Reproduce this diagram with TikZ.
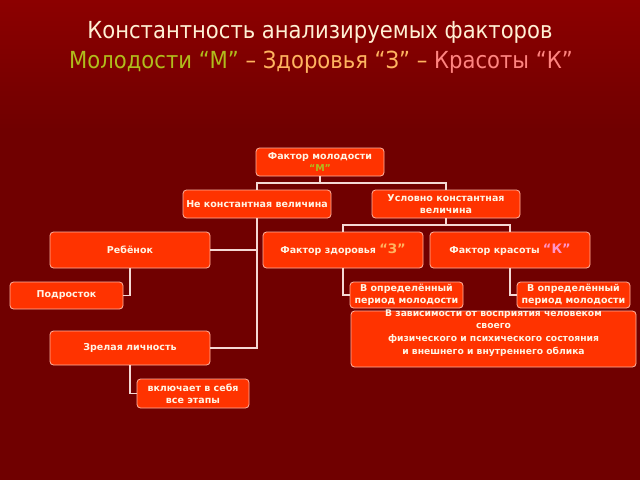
\documentclass[tikz,border=0pt]{standalone}
\usepackage{fontspec}
\usepackage{xcolor}
\newfontfamily\titlefont{DejaVu Sans Condensed}
\newfontfamily\boxfont{DejaVu Sans}
\definecolor{bgdark}{HTML}{700000}
\definecolor{bgtop}{HTML}{8C0000}
\definecolor{boxfill}{HTML}{FF3300}
\definecolor{boxline}{HTML}{FFB4A0}
\definecolor{boxtext}{HTML}{FFF4E4}
\definecolor{linkline}{HTML}{F4D8D4}
\definecolor{titlecream}{HTML}{FFF0D4}
\definecolor{molcol}{HTML}{B0BC1C}
\definecolor{zdorcol}{HTML}{FFB460}
\definecolor{krascol}{HTML}{FF8480}
\definecolor{kboxcol}{HTML}{FF94C8}

\begin{document}
\begin{tikzpicture}[x=1pt,y=-1pt,
		fbox/.style={draw=boxline,fill=boxfill,line width=0.8pt,rounded corners=3.5pt,
			text=boxtext,font=\boxfont\bfseries\fontsize{9.5}{12}\selectfont,align=center,inner sep=0pt},
		link/.style={draw=linkline,line width=1.3pt}]
	\useasboundingbox (0,0) rectangle (640,480);
	\fill[bgdark] (0,0) rectangle (640,480);
	\shade[top color=bgtop,bottom color=bgdark] (0,0) rectangle (640,130);
	% title
	\node[font=\titlefont\fontsize{23.5}{28}\selectfont,text=titlecream] (title1) at (320,32) {Константность анализируемых факторов};
	\node[font=\titlefont\fontsize{23.5}{28}\selectfont] (title2) at (321,62) {\textcolor{molcol}{Молодости “М”} \textcolor{zdorcol}{– Здоровья “З” –} \textcolor{krascol}{Красоты “К”}};
	% boxes
	\node[fbox,minimum width=128,minimum height=28] (molod) at (320,162) {Фактор молодости\\\textcolor{molcol}{“М”}};
	\node[fbox,minimum width=148,minimum height=28] (nekonst) at (257,204) {Не константная величина};
	\node[fbox,minimum width=148,minimum height=28] (uslov) at (446,204) {Условно константная\\величина};
	\node[fbox,minimum width=160,minimum height=36] (rebenok) at (130,250) {Ребёнок};
	\node[fbox,minimum width=113,minimum height=27] (podrost) at (66.5,295.5) {Подросток};
	\node[fbox,minimum width=160,minimum height=34] (zrel) at (130,348) {Зрелая личность};
	\node[fbox,minimum width=112,minimum height=29] (vkl) at (193,393.5) {включает в себя\\все этапы};
	\node[fbox,minimum width=160,minimum height=36] (zdor) at (343,250) {Фактор здоровья \textcolor{zdorcol}{\fontsize{13}{13}\selectfont“З”}};
	\node[fbox,minimum width=160,minimum height=36] (kras) at (510,250) {Фактор красоты \textcolor{kboxcol}{\fontsize{13}{13}\selectfont“К”}};
	\node[fbox,minimum width=113,minimum height=26] (per1) at (406.5,295) {В определённый\\период молодости};
	\node[fbox,minimum width=113,minimum height=26] (per2) at (573.5,295) {В определённый\\период молодости};
	\node[fbox,minimum width=285,minimum height=56] (big) at (493.5,339) {};
	\node[text=boxtext,font=\boxfont\bfseries\fontsize{9.2}{12.8}\selectfont,align=center,inner sep=0pt] (bigtext) at (493.5,333)
		{В зависимости от восприятия человеком\\своего\\физического и психического состояния\\и внешнего и внутреннего облика};
	% connectors
	\coordinate (jm) at (320,183);
	\coordinate (ju) at (446,225);
	\draw[link] (molod.south) -- (jm) -| (nekonst.north);
	\draw[link] (jm) -| (uslov.north);
	\draw[link] (nekonst.south) |- (zrel.east);
	\draw[link] (rebenok.east) -- (rebenok.east -| nekonst.south);
	\draw[link] (rebenok.south) |- (podrost.east);
	\draw[link] (zrel.south) |- (vkl.west);
	\draw[link] (uslov.south) -- (ju) -| (zdor.north);
	\draw[link] (ju) -| (kras.north);
	\draw[link] (zdor.south) |- (per1.west);
	\draw[link] (kras.south) |- (per2.west);
\end{tikzpicture}
\end{document}
